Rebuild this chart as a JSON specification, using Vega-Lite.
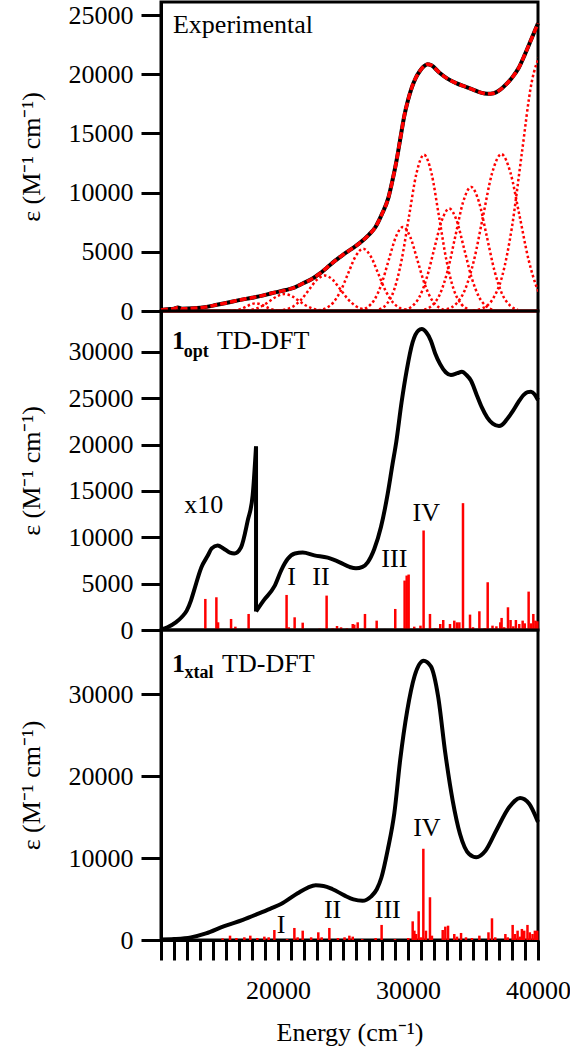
{
"$schema": "https://vega.github.io/schema/vega-lite/v6.json",
"background": "white",
"padding": {"left": 16, "top": 0, "right": 5, "bottom": 0},
"spacing": 0,
"bounds": "flush",
"config": {
 "view": {"stroke": "black", "strokeWidth": 3},
 "axis": {"labelFont": "Liberation Serif", "labelFontSize": 26, "labelColor": "black", "titleFont": "Liberation Serif", "titleFontSize": 26, "titleFontWeight": "normal", "titleColor": "black", "domainColor": "black", "domainWidth": 3, "tickColor": "black", "tickWidth": 3, "tickSize": 20, "labelPadding": 8, "grid": false, "labelOverlap": false, "labelFlush": false},
 "text": {"font": "Liberation Serif", "color": "black"}
},
"datasets": {
 "exp": [
  {"E":11000,"eps":80},{"E":11500,"eps":150},{"E":12000,"eps":200},{"E":12300,"eps":300},{"E":12600,"eps":190},{"E":13500,"eps":230},{"E":14500,"eps":350},{"E":15200,"eps":500},{"E":16000,"eps":680},{"E":17000,"eps":920},{"E":18000,"eps":1120},{"E":18800,"eps":1300},{"E":19500,"eps":1500},{"E":20600,"eps":1770},{"E":21300,"eps":2000},{"E":21900,"eps":2320},{"E":22600,"eps":2700},{"E":23200,"eps":3150},{"E":23800,"eps":3700},{"E":24400,"eps":4250},{"E":25000,"eps":4750},{"E":25600,"eps":5200},{"E":26300,"eps":5750},{"E":27000,"eps":6450},{"E":27500,"eps":7100},{"E":28000,"eps":8200},{"E":28500,"eps":9600},{"E":28800,"eps":11000},{"E":29100,"eps":12600},{"E":29400,"eps":14500},{"E":29700,"eps":16400},{"E":30000,"eps":17800},{"E":30300,"eps":18900},{"E":30600,"eps":19700},{"E":30900,"eps":20250},{"E":31200,"eps":20650},{"E":31500,"eps":20850},{"E":31800,"eps":20750},{"E":32400,"eps":20150},{"E":33000,"eps":19650},{"E":33700,"eps":19250},{"E":34400,"eps":18950},{"E":35000,"eps":18700},{"E":35600,"eps":18450},{"E":36100,"eps":18350},{"E":36600,"eps":18400},{"E":37100,"eps":18700},{"E":37600,"eps":19200},{"E":38000,"eps":19700},{"E":38500,"eps":20500},{"E":39000,"eps":21700},{"E":39500,"eps":23000},{"E":40000,"eps":24300}
 ],
 "gauss": [
  {"g":1,"E":16200,"eps":7},{"g":1,"E":16550,"eps":29},{"g":1,"E":16900,"eps":88},{"g":1,"E":17250,"eps":211},{"g":1,"E":17600,"eps":395},{"g":1,"E":17950,"eps":573},{"g":1,"E":18300,"eps":650},{"g":1,"E":18650,"eps":573},{"g":1,"E":19000,"eps":395},{"g":1,"E":19350,"eps":211},{"g":1,"E":19700,"eps":88},{"g":1,"E":20050,"eps":29},{"g":1,"E":20400,"eps":7},
  {"g":2,"E":17200,"eps":16},{"g":2,"E":17750,"eps":63},{"g":2,"E":18300,"eps":193},{"g":2,"E":18850,"eps":465},{"g":2,"E":19400,"eps":868},{"g":2,"E":19950,"eps":1261},{"g":2,"E":20500,"eps":1430},{"g":2,"E":21050,"eps":1261},{"g":2,"E":21600,"eps":868},{"g":2,"E":22150,"eps":465},{"g":2,"E":22700,"eps":193},{"g":2,"E":23250,"eps":63},{"g":2,"E":23800,"eps":16},
  {"g":3,"E":20000,"eps":33},{"g":3,"E":20600,"eps":132},{"g":3,"E":21200,"eps":405},{"g":3,"E":21800,"eps":975},{"g":3,"E":22400,"eps":1821},{"g":3,"E":23000,"eps":2646},{"g":3,"E":23600,"eps":3000},{"g":3,"E":24200,"eps":2646},{"g":3,"E":24800,"eps":1821},{"g":3,"E":25400,"eps":975},{"g":3,"E":26000,"eps":405},{"g":3,"E":26600,"eps":132},{"g":3,"E":27200,"eps":33},
  {"g":4,"E":23100,"eps":58},{"g":4,"E":23675,"eps":231},{"g":4,"E":24250,"eps":709},{"g":4,"E":24825,"eps":1706},{"g":4,"E":25400,"eps":3187},{"g":4,"E":25975,"eps":4631},{"g":4,"E":26550,"eps":5250},{"g":4,"E":27125,"eps":4631},{"g":4,"E":27700,"eps":3187},{"g":4,"E":28275,"eps":1706},{"g":4,"E":28850,"eps":709},{"g":4,"E":29425,"eps":231},{"g":4,"E":30000,"eps":58},
  {"g":5,"E":26320,"eps":78},{"g":5,"E":26870,"eps":312},{"g":5,"E":27420,"eps":959},{"g":5,"E":27970,"eps":2308},{"g":5,"E":28520,"eps":4310},{"g":5,"E":29070,"eps":6262},{"g":5,"E":29620,"eps":7100},{"g":5,"E":30170,"eps":6262},{"g":5,"E":30720,"eps":4310},{"g":5,"E":31270,"eps":2308},{"g":5,"E":31820,"eps":959},{"g":5,"E":32370,"eps":312},{"g":5,"E":32920,"eps":78},
  {"g":6,"E":27780,"eps":145},{"g":6,"E":28355,"eps":581},{"g":6,"E":28930,"eps":1782},{"g":6,"E":29505,"eps":4290},{"g":6,"E":30080,"eps":8012},{"g":6,"E":30655,"eps":11642},{"g":6,"E":31230,"eps":13200},{"g":6,"E":31805,"eps":11642},{"g":6,"E":32380,"eps":8012},{"g":6,"E":32955,"eps":4290},{"g":6,"E":33530,"eps":1782},{"g":6,"E":34105,"eps":581},{"g":6,"E":34680,"eps":145},
  {"g":7,"E":29720,"eps":95},{"g":7,"E":30295,"eps":381},{"g":7,"E":30870,"eps":1168},{"g":7,"E":31445,"eps":2811},{"g":7,"E":32020,"eps":5251},{"g":7,"E":32595,"eps":7629},{"g":7,"E":33170,"eps":8650},{"g":7,"E":33745,"eps":7629},{"g":7,"E":34320,"eps":5251},{"g":7,"E":34895,"eps":2811},{"g":7,"E":35470,"eps":1168},{"g":7,"E":36045,"eps":381},{"g":7,"E":36620,"eps":95},
  {"g":8,"E":31250,"eps":115},{"g":8,"E":31850,"eps":461},{"g":8,"E":32450,"eps":1415},{"g":8,"E":33050,"eps":3406},{"g":8,"E":33650,"eps":6361},{"g":8,"E":34250,"eps":9243},{"g":8,"E":34850,"eps":10480},{"g":8,"E":35450,"eps":9243},{"g":8,"E":36050,"eps":6361},{"g":8,"E":36650,"eps":3406},{"g":8,"E":37250,"eps":1415},{"g":8,"E":37850,"eps":461},{"g":8,"E":38450,"eps":115},
  {"g":9,"E":32980,"eps":146},{"g":9,"E":33680,"eps":583},{"g":9,"E":34380,"eps":1789},{"g":9,"E":35080,"eps":4306},{"g":9,"E":35780,"eps":8043},{"g":9,"E":36480,"eps":11687},{"g":9,"E":37180,"eps":13250},{"g":9,"E":37880,"eps":11687},{"g":9,"E":38580,"eps":8043},{"g":9,"E":39280,"eps":4306},{"g":9,"E":39980,"eps":1789},{"g":9,"E":40680,"eps":583},
  {"g":10,"E":34995,"eps":48},{"g":10,"E":35745,"eps":240},{"g":10,"E":36495,"eps":959},{"g":10,"E":37245,"eps":2942},{"g":10,"E":37995,"eps":7082},{"g":10,"E":38745,"eps":13226},{"g":10,"E":39495,"eps":19219},{"g":10,"E":40245,"eps":21790}
 ],
 "base": [{"eps":0}],
 "optcurve": [
  {"seg":"a","E":11000,"eps":50},{"seg":"a","E":11500,"eps":300},{"seg":"a","E":12140,"eps":820},{"seg":"a","E":12600,"eps":1400},{"seg":"a","E":12980,"eps":2090},{"seg":"a","E":13310,"eps":3200},{"seg":"a","E":13540,"eps":4250},{"seg":"a","E":14110,"eps":6770},{"seg":"a","E":14590,"eps":8000},{"seg":"a","E":14900,"eps":8800},{"seg":"a","E":15360,"eps":9120},{"seg":"a","E":15800,"eps":8800},{"seg":"a","E":16300,"eps":8350},{"seg":"a","E":16640,"eps":8250},{"seg":"a","E":17150,"eps":8900},{"seg":"a","E":17670,"eps":11800},{"seg":"a","E":18050,"eps":14500},{"seg":"a","E":18310,"eps":19800},
  {"seg":"b","E":18310,"eps":2000},{"seg":"b","E":18900,"eps":3200},{"seg":"b","E":19720,"eps":4700},{"seg":"b","E":20300,"eps":6600},{"seg":"b","E":20740,"eps":7650},{"seg":"b","E":21300,"eps":8250},{"seg":"b","E":21900,"eps":8350},{"seg":"b","E":22800,"eps":8050},{"seg":"b","E":23820,"eps":7800},{"seg":"b","E":24750,"eps":7300},{"seg":"b","E":25500,"eps":6800},{"seg":"b","E":26000,"eps":6650},{"seg":"b","E":26500,"eps":6800},{"seg":"b","E":26900,"eps":7300},{"seg":"b","E":27400,"eps":8700},{"seg":"b","E":27920,"eps":11100},{"seg":"b","E":28440,"eps":14700},{"seg":"b","E":28800,"eps":17800},{"seg":"b","E":29100,"eps":20300},{"seg":"b","E":29500,"eps":24500},{"seg":"b","E":29900,"eps":28000},{"seg":"b","E":30350,"eps":31000},{"seg":"b","E":30800,"eps":32300},{"seg":"b","E":31060,"eps":32450},{"seg":"b","E":31400,"eps":32100},{"seg":"b","E":31760,"eps":31200},{"seg":"b","E":32100,"eps":29800},{"seg":"b","E":32460,"eps":28700},{"seg":"b","E":32900,"eps":27800},{"seg":"b","E":33300,"eps":27500},{"seg":"b","E":33800,"eps":27700},{"seg":"b","E":34140,"eps":27850},{"seg":"b","E":34500,"eps":27500},{"seg":"b","E":34840,"eps":26900},{"seg":"b","E":35300,"eps":25300},{"seg":"b","E":35680,"eps":24000},{"seg":"b","E":36100,"eps":22900},{"seg":"b","E":36520,"eps":22250},{"seg":"b","E":37000,"eps":22000},{"seg":"b","E":37220,"eps":22100},{"seg":"b","E":37600,"eps":22700},{"seg":"b","E":38060,"eps":23600},{"seg":"b","E":38500,"eps":24600},{"seg":"b","E":38900,"eps":25350},{"seg":"b","E":39200,"eps":25650},{"seg":"b","E":39460,"eps":25700},{"seg":"b","E":39750,"eps":25400},{"seg":"b","E":40000,"eps":24800}
 ],
 "optjump": [{"E":18310,"lo":2000,"hi":19800}],
 "optsticks": [
  {"E":14410,"f":3350},{"E":15260,"f":3530},{"E":15390,"f":830},{"E":16390,"f":1190},{"E":16720,"f":360},{"E":17740,"f":1730},{"E":19850,"f":110},{"E":20660,"f":3780},{"E":20830,"f":290},{"E":21280,"f":1370},{"E":21900,"f":790},{"E":22500,"f":110},{"E":22900,"f":100},{"E":23200,"f":150},{"E":23740,"f":3710},{"E":24200,"f":180},{"E":24540,"f":430},{"E":24850,"f":290},{"E":25300,"f":180},{"E":25750,"f":650},{"E":25870,"f":580},{"E":26130,"f":830},{"E":26690,"f":1730},{"E":27000,"f":150},{"E":27590,"f":1010},{"E":28200,"f":120},{"E":29020,"f":2270},{"E":29740,"f":5330},{"E":29900,"f":5870},{"E":30050,"f":5980},{"E":30480,"f":360},{"E":30960,"f":470},{"E":31200,"f":10730},{"E":31690,"f":1730},{"E":32100,"f":200},{"E":32480,"f":650},{"E":32710,"f":1080},{"E":33230,"f":650},{"E":33560,"f":1010},{"E":33770,"f":830},{"E":33950,"f":830},{"E":34230,"f":13680},{"E":34770,"f":1660},{"E":35000,"f":300},{"E":35490,"f":2020},{"E":35900,"f":200},{"E":36130,"f":5150},{"E":36500,"f":470},{"E":36800,"f":400},{"E":37100,"f":830},{"E":37200,"f":1300},{"E":37400,"f":300},{"E":37690,"f":2450},{"E":37890,"f":1080},{"E":38100,"f":400},{"E":38300,"f":1080},{"E":38560,"f":650},{"E":38820,"f":1010},{"E":38980,"f":720},{"E":39280,"f":4140},{"E":39460,"f":720},{"E":39640,"f":1730},{"E":39800,"f":1010},{"E":39950,"f":940}
 ],
 "xtalcurve": [
  {"E":11000,"eps":60},{"E":12000,"eps":120},{"E":13300,"eps":320},{"E":14460,"eps":800},{"E":15870,"eps":1700},{"E":17300,"eps":2450},{"E":18440,"eps":3180},{"E":19500,"eps":3900},{"E":20230,"eps":4400},{"E":21510,"eps":5700},{"E":22300,"eps":6400},{"E":22900,"eps":6680},{"E":23500,"eps":6600},{"E":24200,"eps":6200},{"E":25100,"eps":5450},{"E":25800,"eps":4950},{"E":26500,"eps":4780},{"E":27150,"eps":5300},{"E":27600,"eps":6200},{"E":27950,"eps":7600},{"E":28440,"eps":11000},{"E":28950,"eps":15500},{"E":29400,"eps":22000},{"E":29940,"eps":28000},{"E":30500,"eps":32200},{"E":31200,"eps":34100},{"E":31760,"eps":33400},{"E":32320,"eps":29700},{"E":32870,"eps":22800},{"E":33440,"eps":17000},{"E":34000,"eps":12950},{"E":34700,"eps":10500},{"E":35260,"eps":10100},{"E":35960,"eps":10900},{"E":36800,"eps":13400},{"E":37780,"eps":16200},{"E":38620,"eps":17350},{"E":39320,"eps":16650},{"E":40000,"eps":14400}
 ],
 "xtalsticks": [
  {"E":15740,"f":200},{"E":16310,"f":530},{"E":16800,"f":245},{"E":17410,"f":330},{"E":17870,"f":530},{"E":18410,"f":245},{"E":18950,"f":410},{"E":19280,"f":330},{"E":19720,"f":1220},{"E":20700,"f":120},{"E":21260,"f":1470},{"E":21510,"f":330},{"E":21900,"f":1140},{"E":22550,"f":330},{"E":23100,"f":940},{"E":23360,"f":330},{"E":23950,"f":1470},{"E":24610,"f":245},{"E":25120,"f":330},{"E":25490,"f":530},{"E":25750,"f":410},{"E":26480,"f":120},{"E":27510,"f":245},{"E":27970,"f":1840},{"E":29000,"f":120},{"E":30020,"f":245},{"E":30360,"f":2280},{"E":30490,"f":1140},{"E":30620,"f":730},{"E":30820,"f":3510},{"E":31000,"f":330},{"E":31180,"f":11140},{"E":31380,"f":1140},{"E":31690,"f":5220},{"E":31840,"f":530},{"E":32670,"f":1220},{"E":32870,"f":1630},{"E":33080,"f":1750},{"E":33560,"f":730},{"E":33770,"f":410},{"E":34080,"f":860},{"E":34460,"f":330},{"E":34920,"f":245},{"E":35490,"f":530},{"E":36190,"f":940},{"E":36460,"f":2650},{"E":36710,"f":330},{"E":37490,"f":730},{"E":37670,"f":330},{"E":38050,"f":1840},{"E":38230,"f":730},{"E":38430,"f":1140},{"E":38610,"f":410},{"E":38760,"f":1350},{"E":38940,"f":1140},{"E":39190,"f":1840},{"E":39370,"f":940},{"E":39580,"f":730},{"E":39760,"f":1140},{"E":39940,"f":1140}
 ],
 "labels": [
  {"panel":"exp","kind":"plain","text":"Experimental","E":11920,"eps":23440},
  {"panel":"opt","kind":"bold","text":"1","E":11850,"eps":30260},
  {"panel":"opt","kind":"sub","text":"opt","E":12750,"eps":29460},
  {"panel":"opt","kind":"plain","text":"TD-DFT","E":15300,"eps":30260},
  {"panel":"opt","kind":"plain","text":"x10","E":12785,"eps":12640},
  {"panel":"opt","kind":"roman","text":"I","E":21050,"eps":4900},
  {"panel":"opt","kind":"roman","text":"II","E":23310,"eps":4900},
  {"panel":"opt","kind":"roman","text":"III","E":28950,"eps":6770},
  {"panel":"opt","kind":"roman","text":"IV","E":31400,"eps":11800},
  {"panel":"xtal","kind":"bold","text":"1","E":11850,"eps":32720},
  {"panel":"xtal","kind":"sub","text":"xtal","E":12800,"eps":31950},
  {"panel":"xtal","kind":"plain","text":"TD-DFT","E":15700,"eps":32720},
  {"panel":"xtal","kind":"roman","text":"I","E":20230,"eps":800},
  {"panel":"xtal","kind":"roman","text":"II","E":24200,"eps":2690},
  {"panel":"xtal","kind":"roman","text":"III","E":28440,"eps":2690},
  {"panel":"xtal","kind":"roman","text":"IV","E":31450,"eps":12640}
 ]
},
"vconcat": [
 {
  "width": 377, "height": 309,
  "encoding": {
   "x": {"field": "E", "type": "quantitative", "scale": {"domain": [11000, 40000], "nice": false, "zero": false}, "axis": null},
   "y": {"field": "eps", "type": "quantitative", "scale": {"domain": [0, 26100], "nice": false}, "axis": {"values": [0, 5000, 10000, 15000, 20000, 25000], "format": "d", "title": "ε (M⁻¹ cm⁻¹)", "titlePadding": 24}}
  },
  "layer": [
   {"data": {"name": "gauss"}, "mark": {"type": "line", "color": "#ff0000", "strokeWidth": 2.5, "strokeDash": [2.5, 2.5], "interpolate": "monotone", "clip": true}, "encoding": {"detail": {"field": "g", "type": "nominal"}}},
   {"data": {"name": "base"}, "mark": {"type": "rule", "color": "#ff0000", "strokeWidth": 3}, "encoding": {"x": null}},
   {"data": {"name": "exp"}, "mark": {"type": "line", "color": "black", "strokeWidth": 4, "interpolate": "monotone"}},
   {"data": {"name": "exp"}, "mark": {"type": "line", "color": "#ff0000", "strokeWidth": 3.5, "strokeDash": [7, 3], "interpolate": "monotone"}},
   {"data": {"name": "labels"}, "transform": [{"filter": "datum.panel == 'exp'"}], "mark": {"type": "text", "align": "left", "baseline": "alphabetic", "fontSize": 26}, "encoding": {"text": {"field": "text"}}}
  ]
 },
 {
  "width": 377, "height": 319,
  "encoding": {
   "x": {"field": "E", "type": "quantitative", "scale": {"domain": [11000, 40000], "nice": false, "zero": false}, "axis": null},
   "y": {"field": "eps", "type": "quantitative", "scale": {"domain": [0, 34400], "nice": false}, "axis": {"values": [0, 5000, 10000, 15000, 20000, 25000, 30000], "format": "d", "title": "ε (M⁻¹ cm⁻¹)", "titlePadding": 24}}
  },
  "layer": [
   {"data": {"name": "optsticks"}, "mark": {"type": "rule", "color": "#ff0000", "strokeWidth": 2.5}, "encoding": {"y": {"field": "f", "type": "quantitative"}, "y2": {"datum": 0}}},
   {"data": {"name": "optcurve"}, "mark": {"type": "line", "color": "black", "strokeWidth": 4, "interpolate": "monotone"}, "encoding": {"detail": {"field": "seg", "type": "nominal"}}},
   {"data": {"name": "optjump"}, "mark": {"type": "rule", "color": "black", "strokeWidth": 4}, "encoding": {"y": {"field": "lo", "type": "quantitative"}, "y2": {"field": "hi"}}},
   {"data": {"name": "labels"}, "transform": [{"filter": "datum.panel == 'opt' && datum.kind == 'plain'"}], "mark": {"type": "text", "align": "left", "baseline": "alphabetic", "fontSize": 26}, "encoding": {"text": {"field": "text"}}},
   {"data": {"name": "labels"}, "transform": [{"filter": "datum.panel == 'opt' && datum.kind == 'roman'"}], "mark": {"type": "text", "align": "center", "baseline": "alphabetic", "fontSize": 26}, "encoding": {"text": {"field": "text"}}},
   {"data": {"name": "labels"}, "transform": [{"filter": "datum.panel == 'opt' && datum.kind == 'bold'"}], "mark": {"type": "text", "align": "left", "baseline": "alphabetic", "fontSize": 26, "fontWeight": "bold"}, "encoding": {"text": {"field": "text"}}},
   {"data": {"name": "labels"}, "transform": [{"filter": "datum.panel == 'opt' && datum.kind == 'sub'"}], "mark": {"type": "text", "align": "left", "baseline": "alphabetic", "fontSize": 18, "fontWeight": "bold"}, "encoding": {"text": {"field": "text"}}}
  ]
 },
 {
  "width": 377, "height": 310,
  "encoding": {
   "x": {"field": "E", "type": "quantitative", "scale": {"domain": [11000, 40000], "nice": false, "zero": false},
         "axis": {"values": [11000,12000,13000,14000,15000,16000,17000,18000,19000,20000,21000,22000,23000,24000,25000,26000,27000,28000,29000,30000,31000,32000,33000,34000,35000,36000,37000,38000,39000,40000],
                  "labelExpr": "datum.value % 10000 === 0 ? format(datum.value, 'd') : ''",
                  "tickSize": 20,
                  "encode": {"ticks": {"y2": {"condition": [{"test": "datum.value % 10000 === 0", "value": 20}, {"test": "datum.value % 5000 === 0", "value": 14}], "value": 10}}},
                  "labelPadding": 17, "title": "Energy (cm⁻¹)", "titlePadding": 16}},
   "y": {"field": "eps", "type": "quantitative", "scale": {"domain": [0, 37850], "nice": false}, "axis": {"values": [0, 10000, 20000, 30000], "format": "d", "title": "ε (M⁻¹ cm⁻¹)", "titlePadding": 24}}
  },
  "layer": [
   {"data": {"name": "xtalsticks"}, "mark": {"type": "rule", "color": "#ff0000", "strokeWidth": 2.5}, "encoding": {"y": {"field": "f", "type": "quantitative"}, "y2": {"datum": 0}}},
   {"data": {"name": "xtalcurve"}, "mark": {"type": "line", "color": "black", "strokeWidth": 4, "interpolate": "monotone"}},
   {"data": {"name": "labels"}, "transform": [{"filter": "datum.panel == 'xtal' && datum.kind == 'plain'"}], "mark": {"type": "text", "align": "left", "baseline": "alphabetic", "fontSize": 26}, "encoding": {"text": {"field": "text"}}},
   {"data": {"name": "labels"}, "transform": [{"filter": "datum.panel == 'xtal' && datum.kind == 'roman'"}], "mark": {"type": "text", "align": "center", "baseline": "alphabetic", "fontSize": 26}, "encoding": {"text": {"field": "text"}}},
   {"data": {"name": "labels"}, "transform": [{"filter": "datum.panel == 'xtal' && datum.kind == 'bold'"}], "mark": {"type": "text", "align": "left", "baseline": "alphabetic", "fontSize": 26, "fontWeight": "bold"}, "encoding": {"text": {"field": "text"}}},
   {"data": {"name": "labels"}, "transform": [{"filter": "datum.panel == 'xtal' && datum.kind == 'sub'"}], "mark": {"type": "text", "align": "left", "baseline": "alphabetic", "fontSize": 18, "fontWeight": "bold"}, "encoding": {"text": {"field": "text"}}}
  ]
 }
]
}
